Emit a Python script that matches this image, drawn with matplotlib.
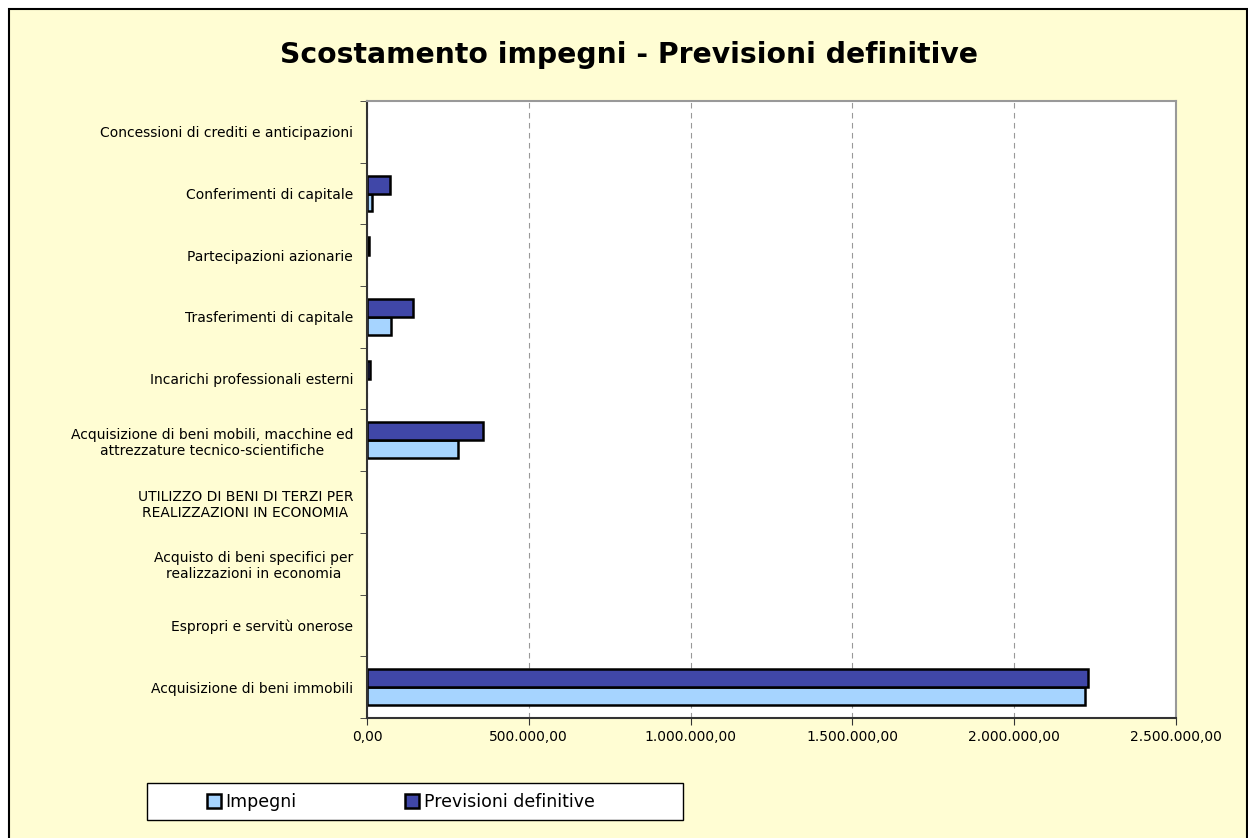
import matplotlib.pyplot as plt
from matplotlib.patches import Rectangle
from matplotlib.ticker import FuncFormatter, MultipleLocator, FixedLocator
import numpy as np

# Data (bottom to top)
categories = [
    'Acquisizione di beni immobili',
    'Espropri e servitù onerose',
    'Acquisto di beni specifici per\nrealizzazioni in economia',
    'UTILIZZO DI BENI DI TERZI PER\nREALIZZAZIONI IN ECONOMIA',
    'Acquisizione di beni mobili, macchine ed\nattrezzature tecnico-scientifiche',
    'Incarichi professionali esterni',
    'Trasferimenti di capitale',
    'Partecipazioni azionarie',
    'Conferimenti di capitale',
    'Concessioni di crediti e anticipazioni',
]
impegni = [2218000, 0, 0, 0, 282000, 0, 74000, 0, 15000, 0]
previsioni = [2227000, 0, 0, 0, 358000, 9000, 142000, 6000, 71000, 0]

c_imp = '#A6D4FF'
c_prev = '#4047A8'
bg = '#FFFDD3'

fig = plt.figure(figsize=(12.48, 8.38), dpi=100, facecolor='white')
fig.patches.append(Rectangle((9 / 1248, -0.05), 1238 / 1248, 1 - 9 / 838 + 0.05,
                             transform=fig.transFigure, facecolor=bg,
                             edgecolor='black', linewidth=1.5, zorder=-10))

ax = fig.add_axes([367 / 1248, 1 - 718 / 838, (1176 - 367) / 1248, (718 - 101) / 838])
ax.set_facecolor('white')

y = np.arange(len(categories))
h = 0.29
# zero values get no outline so nothing shows
lw_imp = [1.8 if v > 0 else 0 for v in impegni]
lw_prev = [1.8 if v > 0 else 0 for v in previsioni]
ax.barh(y - h / 2, impegni, height=h, color=c_imp, edgecolor='black', linewidth=lw_imp, label='Impegni')
ax.barh(y + h / 2, previsioni, height=h, color=c_prev, edgecolor='black', linewidth=lw_prev,
        label='Previsioni definitive')

ax.set_xlim(0, 2500000)
ax.set_ylim(-0.5, len(categories) - 0.5)
ax.xaxis.set_major_locator(MultipleLocator(500000))
ax.xaxis.set_major_formatter(FuncFormatter(lambda v, p: f'{v:,.2f}'.replace(',', 'X').replace('.', ',').replace('X', '.')))
ax.grid(axis='x', color='#999999', linestyle=(0, (5, 4)), linewidth=0.8)
ax.set_axisbelow(True)

ax.set_yticks(y)
ax.set_yticklabels(categories, fontsize=10, multialignment='center')
ax.yaxis.set_minor_locator(FixedLocator(np.arange(-0.5, len(categories), 1)))
ax.tick_params(axis='y', which='major', length=0, pad=10)
ax.tick_params(axis='y', which='minor', length=5, direction='out', color='#333333')
ax.tick_params(axis='x', length=5, direction='out', labelsize=10, color='#333333')

for s in ['top', 'right']:
    ax.spines[s].set_color('#999999')
    ax.spines[s].set_linewidth(1.5)
for s in ['left', 'bottom']:
    ax.spines[s].set_color('#333333')
    ax.spines[s].set_linewidth(1.5)

fig.text(629 / 1248, 1 - 55 / 838, 'Scostamento impegni - Previsioni definitive', ha='center', va='center',
         fontsize=20.3, fontweight='bold')

# legend box drawn by hand, entries placed inside
fig.patches.append(Rectangle((147 / 1248, 1 - 820 / 838), (683 - 147) / 1248, 37 / 838,
                             transform=fig.transFigure, facecolor='white',
                             edgecolor='black', linewidth=1.0, zorder=5))
leg = fig.legend(loc='center left', bbox_to_anchor=(191 / 1248, 1 - 802 / 838), ncol=2, fontsize=12.5,
                 frameon=False, handlelength=0.8, handleheight=0.8,
                 handletextpad=0.25, columnspacing=6.3)
leg.set_zorder(6)

plt.savefig('out.png', dpi=100, facecolor=fig.get_facecolor())
